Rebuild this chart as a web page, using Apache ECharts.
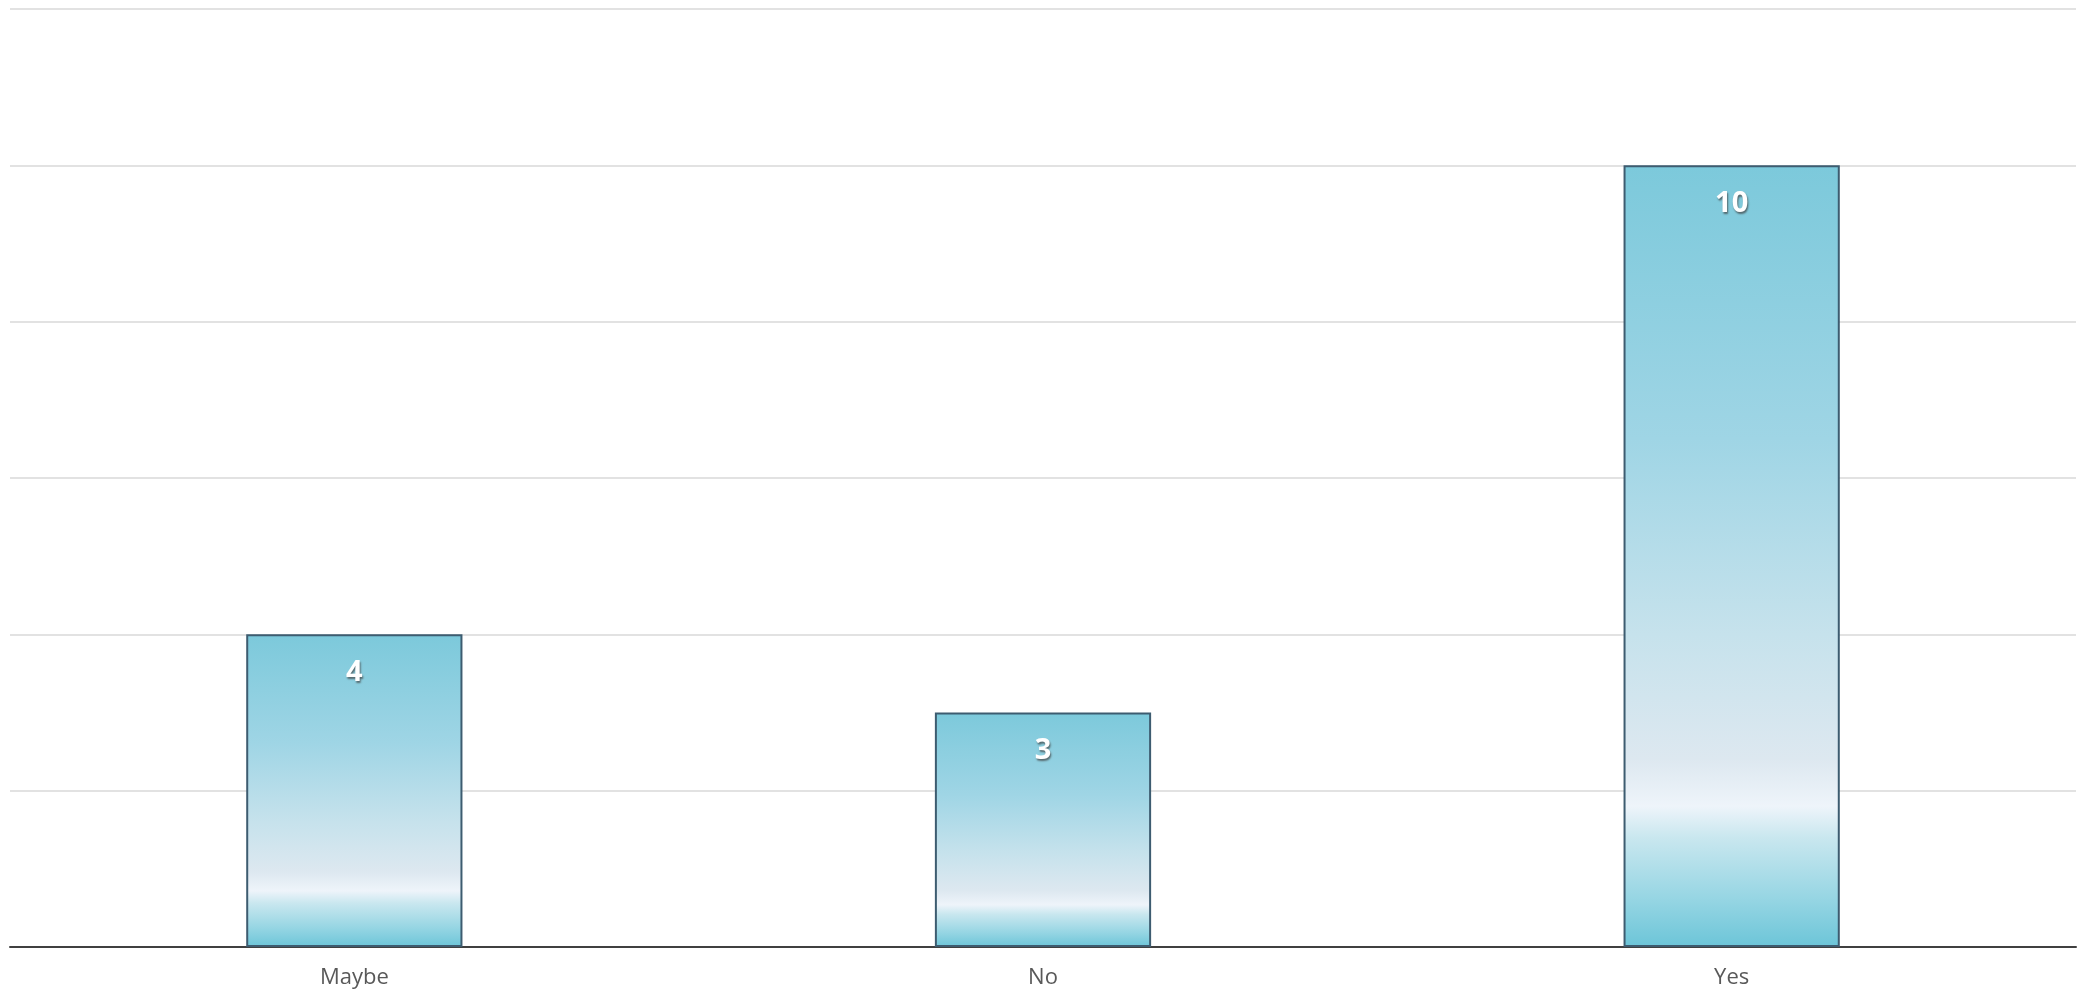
<!DOCTYPE html>
<html>
<head>
<meta charset="utf-8">
<script src="https://cdn.jsdelivr.net/npm/echarts@6/dist/echarts.min.js"></script>
<style>
  html, body { margin: 0; padding: 0; background: #fff; }
  #chart { width: 2089px; height: 992px; }
</style>
</head>
<body>
<div id="chart"></div>
<script>
const categories = ['Maybe', 'No', 'Yes']
const counts = [4, 3, 10]
const yMax = 12
const yStep = 2

const chart = echarts.init(document.getElementById('chart'))

// glassy teal fill: darker top, pale band near bottom, teal again at the base
const barFill = new echarts.graphic.LinearGradient(0, 0, 0, 1, [
  { offset: 0, color: '#7cc9db' },
  { offset: 0.35, color: '#9fd5e5' },
  { offset: 0.6, color: '#c6e2ec' },
  { offset: 0.76, color: '#dde8f0' },
  { offset: 0.82, color: '#eef4fa' },
  { offset: 0.86, color: '#c9e7ef' },
  { offset: 0.94, color: '#95d5e3' },
  { offset: 1, color: '#6cc5d8' }
])

const option = {
  animation: false,
  grid: { left: 10, right: 13, top: 9, bottom: 45, containLabel: false },
  xAxis: {
    type: 'category',
    data: categories,
    axisLine: { lineStyle: { color: '#404040', width: 2 } },
    axisTick: { show: false },
    axisLabel: {
      color: '#595959',
      fontSize: 22,
      fontFamily: 'Open Sans',
      margin: 20
    }
  },
  yAxis: {
    type: 'value',
    min: 0,
    max: yMax,
    interval: yStep,
    axisLabel: { show: false },
    axisLine: { show: false },
    axisTick: { show: false },
    splitLine: { lineStyle: { color: '#d9d9d9', width: 1.5 } }
  },
  series: [
    {
      type: 'bar',
      data: counts,
      barWidth: '31.4%',
      itemStyle: {
        color: barFill,
        borderColor: '#3d5c70',
        borderWidth: 2
      },
      label: {
        show: true,
        position: 'insideTop',
        distance: 24,
        color: '#ffffff',
        fontSize: 29,
        fontWeight: 'bold',
        fontFamily: 'Open Sans',
        textShadowColor: 'rgba(60, 60, 60, 0.7)',
        textShadowBlur: 2,
        textShadowOffsetX: 1,
        textShadowOffsetY: 2
      }
    }
  ]
}

chart.setOption(option)
</script>
</body>
</html>
